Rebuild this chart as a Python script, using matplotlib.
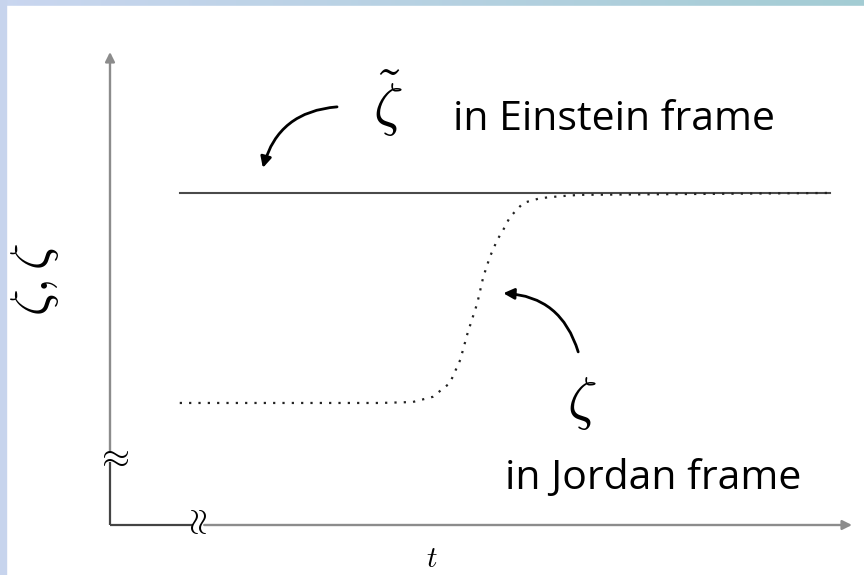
import numpy as np
import matplotlib.pyplot as plt
from matplotlib.patches import Rectangle

plt.rcParams['mathtext.fontset'] = 'cm'
plt.rcParams['font.family'] = ['Open Sans', 'DejaVu Sans']

# Einstein frame: constant curvature perturbation
t_einstein = [0.94, 9.70]
z_einstein = [0.702, 0.702]

# Jordan frame: flat, then jumps up to the Einstein value
t_jordan = [0.94, 3.64, 4.08, 4.35, 4.58, 4.72, 4.82, 4.95, 5.03, 5.12,
            5.22, 5.30, 5.39, 5.57, 5.80, 6.06, 6.33, 9.70]
z_jordan = [0.258, 0.258, 0.260, 0.271, 0.300, 0.349, 0.406, 0.469, 0.524, 0.567,
            0.603, 0.624, 0.651, 0.681, 0.691, 0.695, 0.698, 0.702]

fig = plt.figure(figsize=(8.64, 5.75), dpi=100)

# slide background: bluish band on top and left
bg = fig.add_axes([0, 0, 1, 1])
grad = np.linspace(0, 1, 256)
top_left = np.array([0.79, 0.84, 0.94])
top_right = np.array([0.64, 0.80, 0.83])
img = top_left[None, :] * (1 - grad[:, None]) + top_right[None, :] * grad[:, None]
bg.imshow(img[None, :, :], extent=[0, 1, 0, 1], aspect='auto')
bg.add_patch(Rectangle((6 / 864, 0), 1, 1 - 6 / 575, color='white'))
bg.add_patch(Rectangle((0, 0), 6 / 864, 1, color=(0.78, 0.83, 0.93)))
bg.set_xlim(0, 1)
bg.set_ylim(0, 1)
bg.axis('off')

ax = fig.add_axes([0, 0, 1, 1])
ax.set_xlim(-110 / 74.2, 754 / 74.2)
ax.set_ylim(-50 / 473, 525 / 473)
ax.axis('off')
ax.patch.set_alpha(0)

# axes with breaks
dark = '#444444'
light = '#8c8c8c'
ax.plot([0, 0], [0, 0.133], color=dark, lw=1.6, solid_capstyle='butt')
ax.plot([0, 1.12], [0, 0], color=dark, lw=1.6, solid_capstyle='butt')
ax.annotate('', xy=(0, 1.0), xytext=(0, 0.155),
            arrowprops=dict(arrowstyle='-|>', color=light, lw=1.7,
                            mutation_scale=14, shrinkA=0, shrinkB=0))
ax.annotate('', xy=(10.0, 0), xytext=(1.27, 0),
            arrowprops=dict(arrowstyle='-|>', color=light, lw=1.7,
                            mutation_scale=14, shrinkA=0, shrinkB=0))
ax.text(0.03, 0.143, r'$\approx$', fontsize=26, ha='center', va='center', color='black')
ax.text(1.19, 0.0, r'$\approx$', fontsize=26, ha='center', va='center',
        rotation=90, color='black')

# the two curves
ax.plot(t_einstein, z_einstein, color='#4a4a4a', lw=1.5)
ax.plot(t_jordan, z_jordan, color='#222222', lw=1.6, linestyle=(0, (1, 3.2)))

# labels
ax.text(4.34, -0.072, r'$t$', fontsize=21, ha='center', va='center')
ax.text(-1.02, 0.52, r'$\zeta,\zeta$', fontsize=38, ha='center', va='center', rotation=90)

ax.text(3.75, 0.89, r'$\tilde{\zeta}$', fontsize=42, ha='center', va='center')
ax.text(4.62, 0.835, 'in Einstein frame', fontsize=29.5, ha='left', va='baseline')
ax.text(6.36, 0.258, r'$\zeta$', fontsize=42, ha='center', va='center')
ax.text(5.32, 0.076, 'in Jordan frame', fontsize=29.5, ha='left', va='baseline')

# curved pointers
ax.annotate('', xy=(2.06, 0.755), xytext=(3.06, 0.884),
            arrowprops=dict(arrowstyle='-|>', color='black', lw=2,
                            mutation_scale=16, shrinkA=0, shrinkB=0,
                            connectionstyle='arc3,rad=0.35'))
ax.annotate('', xy=(5.30, 0.490), xytext=(6.31, 0.366),
            arrowprops=dict(arrowstyle='-|>', color='black', lw=2,
                            mutation_scale=16, shrinkA=0, shrinkB=0,
                            connectionstyle='arc3,rad=0.35'))

fig.savefig('out.png', dpi=100)
